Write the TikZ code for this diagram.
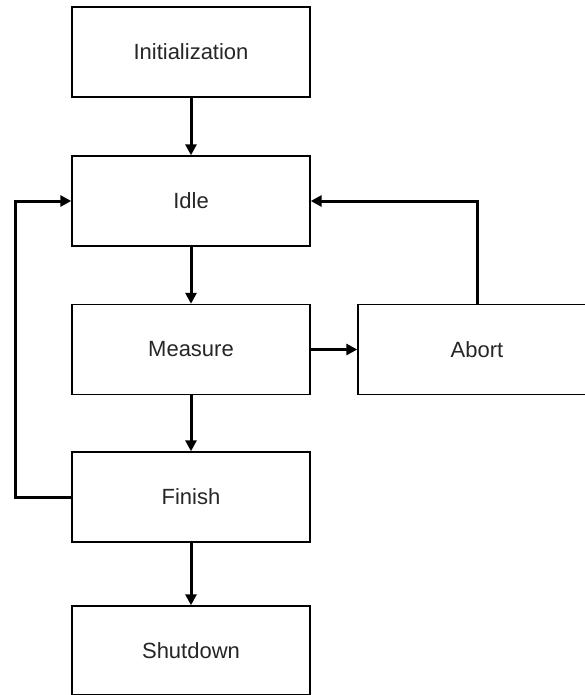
\documentclass[tikz,border=0pt]{standalone}
\usepackage{fontspec}
\setmainfont{Liberation Sans}
\usetikzlibrary{arrows.meta,positioning}
\begin{document}
\begin{tikzpicture}[x=1pt,y=-1pt,
  statebox/.style={draw=black,line width=1.4pt,fill=white,minimum width=238pt,
    minimum height=90pt,inner sep=0pt,font=\fontsize{22}{26}\selectfont,text=black!85},
  flow/.style={line width=3pt,-{Triangle[length=11pt,width=11pt]}}]
\useasboundingbox (0,0) rectangle (584,695);
\node[statebox] (init) at (191,52) {Initialization};
\node[statebox] (idle) at (191,201) {Idle};
\node[statebox] (meas) at (191,349.5) {Measure};
\node[statebox] (abort) at (477,349.5) {Abort};
\node[statebox] (fin) at (191,497) {Finish};
\node[statebox,minimum height=89pt] (shut) at (191,650.5) {Shutdown};
\coordinate (lft) at (15,0);
\draw[flow] (init) -- (idle);
\draw[flow] (idle) -- (meas);
\draw[flow] (meas) -- (fin);
\draw[flow] (fin) -- (shut);
\draw[flow] (meas) -- (abort);
\draw[flow] (fin.west) -- (lft |- fin.west) -- (lft |- idle.west) -- (idle.west);
\draw[flow] (abort.north) -- (abort.north |- idle.east) -- (idle.east);
\end{tikzpicture}
\end{document}
